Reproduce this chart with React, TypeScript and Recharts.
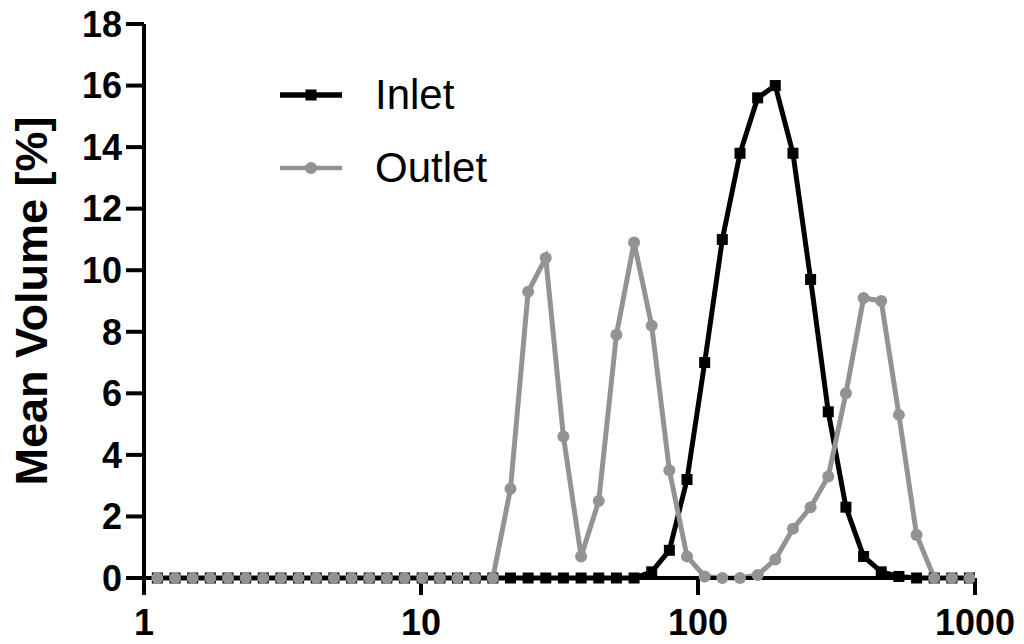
import { Legend, Line, LineChart, XAxis, YAxis } from 'recharts'

// size classes (nm) on a log grid
const sizes = [
  1.117, 1.294, 1.499, 1.736, 2.01, 2.328, 2.696, 3.122, 3.615, 4.187, 4.849,
  5.615, 6.503, 7.531, 8.721, 10.1, 11.7, 13.54, 15.69, 18.17, 21.04, 24.36,
  28.21, 32.67, 37.84, 43.82, 50.75, 58.77, 68.06, 78.82, 91.28, 105.7, 122.4,
  141.8, 164.2, 190.1, 220.2, 255.0, 295.3, 342.0, 396.1, 458.7, 531.2, 615.1,
  712.4, 825.0, 955.4,
]

const inletValues = [
  0, 0, 0, 0, 0, 0, 0, 0, 0, 0, 0, 0, 0, 0, 0, 0, 0, 0, 0, 0, 0, 0, 0, 0, 0,
  0, 0, 0, 0.2, 0.9, 3.2, 7.0, 11.0, 13.8, 15.6, 16.0, 13.8, 9.7, 5.4, 2.3, 0.7,
  0.2, 0.05, 0, 0, 0, 0,
]

const outletValues = [
  0, 0, 0, 0, 0, 0, 0, 0, 0, 0, 0, 0, 0, 0, 0, 0, 0, 0, 0, 0, 2.9, 9.3, 10.4,
  4.6, 0.7, 2.5, 7.9, 10.9, 8.2, 3.5, 0.7, 0.05, 0, 0, 0.1, 0.6, 1.6, 2.3, 3.3,
  6.0, 9.1, 9.0, 5.3, 1.4, 0, 0, 0,
]

const xTicks = [1, 10, 100, 1000]
const yTicks = [0, 2, 4, 6, 8, 10, 12, 14, 16, 18]

const INLET = '#000000'
const OUTLET = '#939393'
const FONT = '"Liberation Sans", Arial, sans-serif'

const data = sizes.map((size, i) => ({
  size,
  inlet: inletValues[i],
  outlet: outletValues[i],
}))

function SquareDot(props: any) {
  const { cx, cy, index } = props
  if (cx == null || cy == null) return null
  return (
    <rect key={`sq-${index}`} x={cx - 5.5} y={cy - 5.5} width={11} height={11} fill={INLET} />
  )
}

function RoundDot(props: any) {
  const { cx, cy, index } = props
  if (cx == null || cy == null) return null
  return <circle key={`ci-${index}`} cx={cx} cy={cy} r={6} fill={OUTLET} />
}

function YLabel(props: any) {
  const vb = props.viewBox ?? { y: 24, height: 554 }
  const cy = vb.y + vb.height / 2
  return (
    <text
      x={47}
      y={cy}
      transform={`rotate(-90, 47, ${cy})`}
      textAnchor="middle"
      fontFamily={FONT}
      fontWeight="bold"
      fontSize={45}
      fill="#000"
    >
      Mean Volume [%]
    </text>
  )
}

function LegendContent(props: any) {
  const { payload = [] } = props
  return (
    <div style={{ fontFamily: FONT, fontSize: 42, color: '#000' }}>
      {payload.map((entry: any) => {
        const isInlet = entry.dataKey === 'inlet'
        return (
          <div
            key={entry.value}
            style={{ display: 'flex', alignItems: 'center', height: 73, lineHeight: '73px' }}
          >
            <svg width={62} height={20} style={{ marginRight: 33 }}>
              <line
                x1={0}
                y1={10}
                x2={62}
                y2={10}
                stroke={entry.color}
                strokeWidth={isInlet ? 5.5 : 4.5}
              />
              {isInlet ? (
                <rect x={25.5} y={4.5} width={11} height={11} fill={entry.color} />
              ) : (
                <circle cx={31} cy={10} r={6} fill={entry.color} />
              )}
            </svg>
            <span>{entry.value}</span>
          </div>
        )
      })}
    </div>
  )
}

export default function App() {
  return (
    <div style={{ position: 'absolute', left: 0, top: 0, background: '#fff' }}>
      <LineChart
        width={1024}
        height={644}
        data={data}
        margin={{ top: 24, right: 49, bottom: 6, left: 0 }}
      >
        <XAxis
          dataKey="size"
          type="number"
          scale="log"
          domain={[1, 1000]}
          ticks={xTicks}
          interval={0}
          allowDataOverflow
          height={60}
          tickSize={17}
          tickMargin={14}
          axisLine={{ stroke: '#000', strokeWidth: 4 }}
          tickLine={{ stroke: '#000', strokeWidth: 4 }}
          tick={{ fontSize: 36, fontWeight: 'bold', fill: '#000', fontFamily: FONT }}
        />
        <YAxis
          type="number"
          domain={[0, 18]}
          ticks={yTicks}
          interval={0}
          width={144}
          tickSize={18}
          tickMargin={4}
          axisLine={{ stroke: '#000', strokeWidth: 4 }}
          tickLine={{ stroke: '#000', strokeWidth: 4 }}
          tick={{ fontSize: 36, fontWeight: 'bold', fill: '#000', fontFamily: FONT }}
          label={<YLabel />}
        />
        <Legend
          layout="vertical"
          align="center"
          verticalAlign="middle"
          content={<LegendContent />}
          wrapperStyle={{ top: 58, left: 280, width: 'auto' }}
        />
        <Line
          dataKey="inlet"
          name="Inlet"
          stroke={INLET}
          strokeWidth={5}
          dot={SquareDot}
          activeDot={false}
          isAnimationActive={false}
        />
        <Line
          dataKey="outlet"
          name="Outlet"
          stroke={OUTLET}
          strokeWidth={5}
          dot={RoundDot}
          activeDot={false}
          isAnimationActive={false}
        />
      </LineChart>
    </div>
  )
}
